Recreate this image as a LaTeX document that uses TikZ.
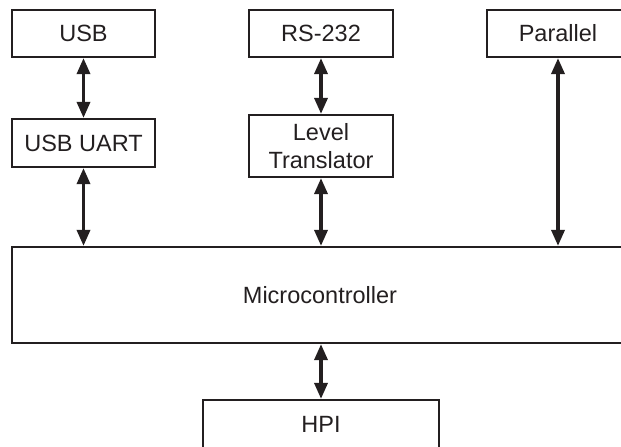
\documentclass[tikz,border=0pt]{standalone}
\usepackage{fontspec}
\setmainfont{Liberation Sans}
\usetikzlibrary{arrows.meta}
\definecolor{ink}{HTML}{231F20}
\begin{document}
\begin{tikzpicture}[x=1pt,y=-1pt,
  blk/.style={draw=ink,line width=2.2pt,rectangle,inner sep=0pt,align=center,
    font=\fontsize{23.5}{28}\selectfont,text=ink},
  link/.style={draw=ink,line width=3.4pt,
    {Triangle[length=16pt,width=13pt]}-{Triangle[length=16pt,width=13pt]}}]
\useasboundingbox (0,0) rectangle (621,447);
\node[blk,minimum width=143pt,minimum height=47pt] (usb) at (83.5,33.5) {USB};
\node[blk,minimum width=143pt,minimum height=48pt] (uart) at (83.5,143) {USB UART};
\node[blk,minimum width=144pt,minimum height=47pt] (rs) at (321,33.5) {RS-232};
\node[blk,minimum width=144pt,minimum height=62pt] (lvl) at (321,146) {Level\\Translator};
\node[blk,minimum width=142pt,minimum height=47pt] (par) at (558,33.5) {Parallel};
\node[blk,minimum width=616pt,minimum height=96pt] (mc) at (320,295) {Microcontroller};
\node[blk,minimum width=236pt,minimum height=48pt] (hpi) at (321,424) {HPI};
\draw[link] (usb.south) -- (uart.north);
\draw[link] (uart.south) -- (uart.south |- mc.north);
\draw[link] (rs.south) -- (lvl.north);
\draw[link] (lvl.south) -- (lvl.south |- mc.north);
\draw[link] (par.south) -- (par.south |- mc.north);
\draw[link] (hpi.north |- mc.south) -- (hpi.north);
\end{tikzpicture}
\end{document}
